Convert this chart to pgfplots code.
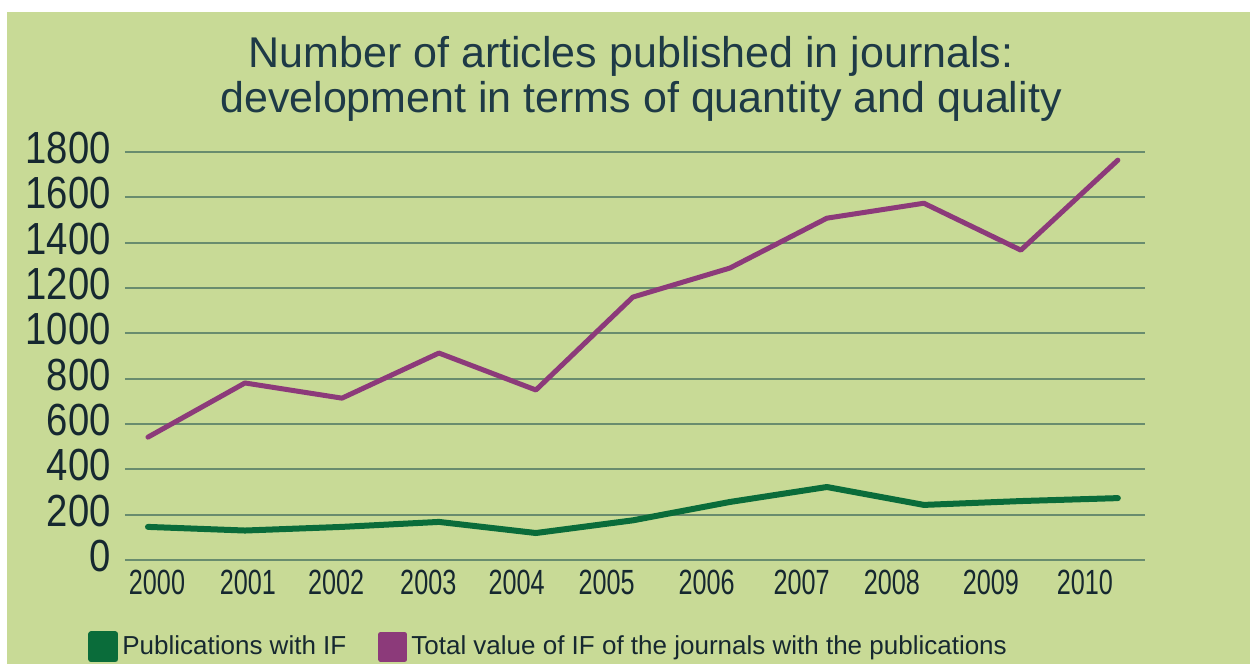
\documentclass[border=0pt]{standalone}
\usepackage{pgfplots}
\pgfplotsset{compat=1.18}
\usepackage{fontspec}
\setmainfont{Liberation Sans}
\newfontfamily\xtickfont[FakeStretch=0.72]{Liberation Sans}
\newfontfamily\ytickfont[FakeStretch=0.85]{Liberation Sans}
\definecolor{bg}{RGB}{200,218,150}
\definecolor{gridc}{RGB}{105,140,110}
\definecolor{purp}{RGB}{140,58,122}
\definecolor{grn}{RGB}{10,108,58}
\definecolor{txt}{RGB}{22,40,48}
\definecolor{titc}{RGB}{30,58,70}
\begin{document}
\begin{tikzpicture}[x=1pt,y=1pt]
\useasboundingbox (0,0) rectangle (625,332);
\fill[white] (0,0) rectangle (625,332);
\fill[bg] (3.5,0) rectangle (625,326);
\begin{axis}[
  at={(62.5pt,52pt)}, anchor=south west,
  width=510pt, height=204pt, scale only axis,
  xmin=-0.237, xmax=10.28, ymin=0, ymax=1800,
  axis line style={draw=none},
  major tick length=0pt,
  ymajorgrids, major grid style={gridc, line width=0.9pt},
  ytick={0,200,...,1800},
  xtick={0.093,1.03,1.94,2.89,3.80,4.73,5.76,6.74,7.67,8.69,9.66},
  xticklabels={2000,2001,2002,2003,2004,2005,2006,2007,2008,2009,2010},
  /pgf/number format/assume math mode=true,
  /pgf/number format/1000 sep={},
  yticklabel style={font=\ytickfont\fontsize{22.5}{22.5}\selectfont, text=txt, anchor=east, inner sep=0pt, xshift=-7pt, yshift=2pt},
  xticklabel style={font=\xtickfont\fontsize{17.5}{17.5}\selectfont, text=txt, anchor=north, inner sep=0pt, yshift=-5pt},
  legend columns=2,
  legend style={at={(-0.0363,-0.213)}, anchor=west, draw=none, fill=none, inner sep=0pt,
    font=\fontsize{13}{13}\selectfont, text=txt,
    /tikz/every even column/.append style={column sep=14pt}},
  legend image code/.code={\fill[#1] (0pt,-6.25pt) rectangle (12pt,6.25pt);},
]
\addplot[color=grn, line width=3pt, line join=round, line cap=round] coordinates {
(0,146) (1,130) (2,146) (3,168) (4,119) (5,175) (6,256) (7,322) (8,243) (9,260) (10,273)};
\addlegendentry{Publications with IF}
\addplot[color=purp, line width=2.5pt, line join=round, line cap=round] coordinates {
(0,542) (1,781) (2,714) (3,913) (4,750) (5,1160) (6,1288) (7,1508) (8,1574) (9,1367) (10,1764)};
\addlegendentry{Total value of IF of the journals with the publications}
\end{axis}
\node[anchor=base, font=\fontsize{21.5}{22.5}\selectfont, text=titc] at (315.5,298) {Number of articles published in journals:};
\node[anchor=base, font=\fontsize{21.5}{22.5}\selectfont, text=titc] at (320.5,275.5) {development in terms of quantity and quality};
\end{tikzpicture}
\end{document}
